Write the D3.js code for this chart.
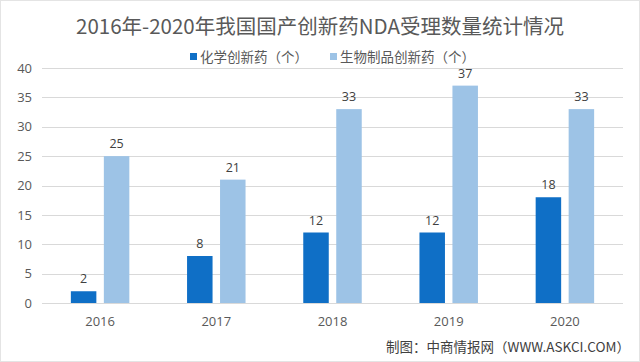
<!DOCTYPE html>
<html>
<head>
<meta charset="utf-8">
<script src="https://cdn.jsdelivr.net/npm/d3@7"></script>
<style>
  body { margin: 0; background: #fff; }
  svg { display: block; font-family: "Noto Sans CJK SC", "Noto Sans", sans-serif; }
</style>
</head>
<body>
<svg id="chart" width="640" height="362"></svg>
<script>
const years = ["2016", "2017", "2018", "2019", "2020"];
const chemical = [2, 8, 12, 12, 18];
const biologic = [25, 21, 33, 37, 33];
const seriesNames = ["化学创新药（个）", "生物制品创新药（个）"];
const yTicks = [0, 5, 10, 15, 20, 25, 30, 35, 40];
const colors = ["#0f6fc6", "#9dc3e6"];

const width = 640, height = 362;
const margin = { top: 68, right: 17, bottom: 59, left: 42 };

const svg = d3.select("#chart");

svg.append("rect")
  .attr("x", 0.5).attr("y", 0.5)
  .attr("width", width - 1).attr("height", height - 1)
  .attr("fill", "#fff").attr("stroke", "#e4e4e4");

const x = d3.scaleBand().domain(years).range([margin.left, width - margin.right]);
const inner = d3.scaleBand().domain([0, 1]).range([0, x.bandwidth()]).paddingInner(0.227).paddingOuter(0.875);
const y = d3.scaleLinear().domain([0, 40]).range([height - margin.bottom, margin.top]);

// gridlines
svg.append("g")
  .selectAll("line")
  .data(yTicks)
  .join("line")
  .attr("x1", margin.left).attr("x2", width - margin.right)
  .attr("y1", d => Math.round(y(d)) + 0.5).attr("y2", d => Math.round(y(d)) + 0.5)
  .attr("stroke", "#d9d9d9");

// y axis labels
const yAxis = svg.append("g")
  .attr("transform", `translate(${margin.left - 2},0)`)
  .call(d3.axisLeft(y).tickValues(yTicks).tickSize(0).tickPadding(8));
yAxis.select(".domain").remove();
yAxis.selectAll("text").attr("font-size", 13).attr("fill", "#595959")
  .attr("font-family", "'Open Sans', 'Noto Sans', sans-serif");

// x axis labels
const xAxis = svg.append("g")
  .attr("transform", `translate(0,${height - margin.bottom})`)
  .call(d3.axisBottom(x).tickSize(0).tickPadding(14));
xAxis.select(".domain").remove();
xAxis.selectAll("text").attr("font-size", 13).attr("fill", "#595959")
  .attr("font-family", "'Open Sans', 'Noto Sans', sans-serif");

const data = [chemical, biologic];

data.forEach((vals, si) => {
  const g = svg.append("g");
  g.selectAll("rect")
    .data(vals)
    .join("rect")
    .attr("x", (d, i) => x(years[i]) + inner(si))
    .attr("width", inner.bandwidth())
    .attr("y", d => y(d))
    .attr("height", d => y(0) - y(d))
    .attr("fill", colors[si]);
  g.selectAll("text")
    .data(vals)
    .join("text")
    .attr("x", (d, i) => x(years[i]) + inner(si) + inner.bandwidth() / 2)
    .attr("y", d => y(d) - 8)
    .attr("text-anchor", "middle")
    .attr("font-size", 12.5)
    .attr("fill", "#404040")
    .attr("font-family", "'Open Sans', 'Noto Sans', sans-serif")
    .text(d => d);
});

// title
svg.append("text")
  .attr("x", 320).attr("y", 34)
  .attr("text-anchor", "middle")
  .attr("font-size", 20.5)
  .attr("fill", "#595959")
  .text("2016年-2020年我国国产创新药NDA受理数量统计情况");

// legend
const legendX = [190, 330];
seriesNames.forEach((name, i) => {
  const lg = svg.append("g").attr("transform", `translate(${legendX[i]},57)`);
  lg.append("rect").attr("x", 0).attr("y", -4).attr("width", 7).attr("height", 7).attr("fill", colors[i]);
  lg.append("text").attr("x", 10).attr("y", 4.5).attr("font-size", 13.5).attr("fill", "#595959").text(name);
});

// footer
svg.append("text")
  .attr("x", 630).attr("y", 352)
  .attr("text-anchor", "end")
  .attr("font-size", 13.5)
  .attr("fill", "#404040")
  .text("制图：中商情报网（WWW.ASKCI.COM）");
</script>
</body>
</html>
